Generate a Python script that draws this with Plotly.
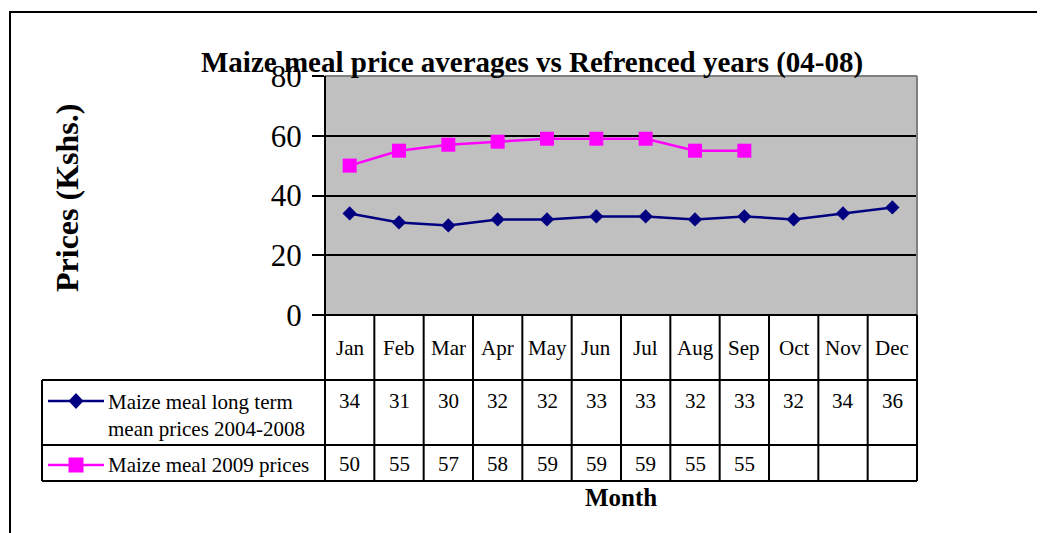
import plotly.graph_objects as go

months = ["Jan", "Feb", "Mar", "Apr", "May", "Jun", "Jul", "Aug", "Sep", "Oct", "Nov", "Dec"]
long_term = [34, 31, 30, 32, 32, 33, 33, 32, 33, 32, 34, 36]
prices_2009 = [50, 55, 57, 58, 59, 59, 59, 55, 55, None, None, None]
series_names = ["Maize meal long term<br>mean prices 2004-2008", "Maize meal 2009 prices"]
y_ticks = [0, 20, 40, 60, 80]

OFF = 8  # page body margin
W, H = 1045 - OFF, 533 - OFF
FONT = "Liberation Serif"
NAVY = "#000080"
MAG = "#FF00FF"


def px(x):
    return (x - OFF) / W


def py(y):
    return 1 - (y - OFF) / H


PL, PR, PT, PB = 325, 917, 76, 315
LEG_L = 42
ROW1, ROW2, ROW3 = 380, 445, 481

fig = go.Figure()

fig.add_trace(go.Scatter(
    x=months, y=long_term, mode="lines+markers",
    line=dict(color=NAVY, width=2.5),
    marker=dict(symbol="diamond", size=11, color=NAVY),
    showlegend=False, cliponaxis=False))
fig.add_trace(go.Scatter(
    x=months, y=prices_2009, mode="lines+markers",
    line=dict(color=MAG, width=2.5),
    marker=dict(symbol="square", size=14, color=MAG),
    showlegend=False, cliponaxis=False))

shapes = []


def line(x0, y0, x1, y1, color="black", width=2):
    shapes.append(dict(type="line", xref="paper", yref="paper", x0=px(x0), y0=py(y0), x1=px(x1), y1=py(y1),
                       line=dict(color=color, width=width)))


# outer frame
shapes.append(dict(type="rect", xref="paper", yref="paper", x0=px(10), y0=py(700), x1=px(1200), y1=py(12),
                   line=dict(color="black", width=2), layer="below"))
# plot area border top/right gray
line(PL, PT, PR, PT, "#808080", 2)
line(PR, PT, PR, PB, "#808080", 2)
# table lines
for yy in (ROW1, ROW2, ROW3):
    line(LEG_L, yy, PR, yy)
line(LEG_L, ROW1, LEG_L, ROW3)
line(PL, PT, PL, ROW3)
colw = (PR - PL) / len(months)
for k in range(1, len(months) + 1):
    xx = PL + colw * k
    line(xx, PB, xx, ROW3)
line(PL, PB, PR, PB)

# legend keys in the table
KX0, KX1, KXM = 48, 104, 76
for yk, col in ((401, NAVY), (465, MAG)):
    line(KX0, yk, KX1, yk, col, 2.5)
dx, dy = 7.5, 8
shapes.append(dict(type="path", xref="paper", yref="paper",
                   path=f"M {px(KXM - dx)} {py(401)} L {px(KXM)} {py(401 - dy)} L {px(KXM + dx)} {py(401)} "
                        f"L {px(KXM)} {py(401 + dy)} Z",
                   fillcolor=NAVY, line=dict(color=NAVY, width=0)))
s = 7.5
shapes.append(dict(type="rect", xref="paper", yref="paper", x0=px(KXM - s), x1=px(KXM + s),
                   y0=py(465 + s), y1=py(465 - s), fillcolor=MAG, line=dict(color=MAG, width=0)))

annotations = []
tf = dict(family=FONT, size=21, color="black")
for i, m in enumerate(months):
    annotations.append(dict(x=m, xref="x", y=py(348), yref="paper", text=m, showarrow=False, font=tf,
                            xanchor="center", yanchor="middle"))
    annotations.append(dict(x=m, xref="x", y=py(401), yref="paper", text=str(long_term[i]), showarrow=False,
                            font=tf, xanchor="center", yanchor="middle"))
    if prices_2009[i] is not None:
        annotations.append(dict(x=m, xref="x", y=py(464), yref="paper", text=str(prices_2009[i]), showarrow=False,
                                font=tf, xanchor="center", yanchor="middle"))
annotations.append(dict(x=px(106), y=py(415), xref="paper", yref="paper", text=series_names[0], showarrow=False,
                        font=tf, xanchor="left", yanchor="middle", align="left"))
annotations.append(dict(x=px(106), y=py(465), xref="paper", yref="paper", text=series_names[1], showarrow=False,
                        font=tf, xanchor="left", yanchor="middle", align="left"))
annotations.append(dict(x=px(621), y=py(497), xref="paper", yref="paper", text="<b>Month</b>", showarrow=False,
                        font=dict(family=FONT, size=25, color="black"), xanchor="center", yanchor="middle"))
annotations.append(dict(x=px(532), y=py(63), xref="paper", yref="paper",
                        text="<b>Maize meal price averages vs Refrenced years (04-08)</b>", showarrow=False,
                        font=dict(family=FONT, size=29, color="black"), xanchor="center", yanchor="middle"))
annotations.append(dict(x=px(67), y=py(198), xref="paper", yref="paper", text="<b>Prices (Kshs.)</b>",
                        showarrow=False, textangle=-90,
                        font=dict(family=FONT, size=32, color="black"), xanchor="center", yanchor="middle"))

fig.update_layout(
    width=W, height=H, margin=dict(l=0, r=0, t=0, b=0, autoexpand=False),
    paper_bgcolor="white", plot_bgcolor="#C0C0C0",
    xaxis=dict(domain=[px(PL), px(PR)], type="category", categoryorder="array", categoryarray=months,
               range=[-0.5, len(months) - 0.5], showticklabels=False,
               showgrid=False, zeroline=False, ticks="", showline=False, fixedrange=True, automargin=False),
    yaxis=dict(domain=[py(PB), py(PT)], range=[0, 80], tickvals=y_ticks, ticks="outside", ticklen=12,
               tickwidth=2, tickcolor="black", showgrid=True, gridcolor="black", gridwidth=2,
               zeroline=False, showline=False, automargin=False, ticklabelstandoff=4,
               tickfont=dict(family=FONT, size=31, color="black"), fixedrange=True),
    shapes=shapes, annotations=annotations,
)

fig.write_html("out.html")
